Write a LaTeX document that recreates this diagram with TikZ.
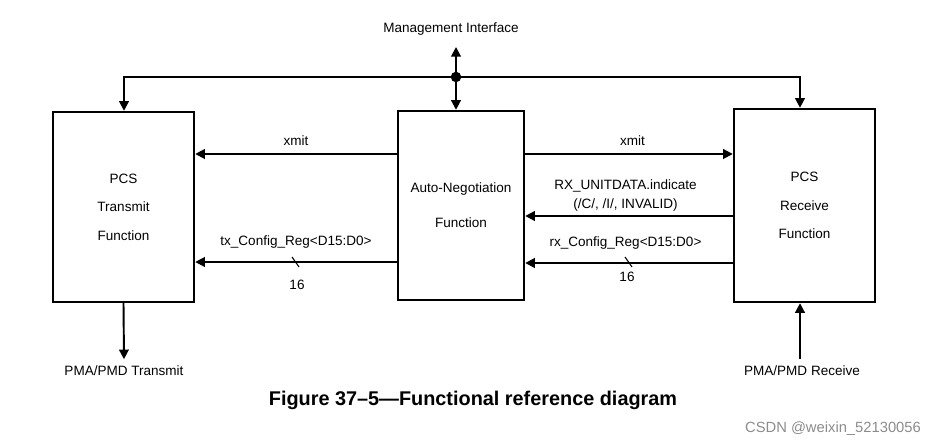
\documentclass[tikz,border=0pt]{standalone}
\usepackage{fontspec}
\setmainfont{Liberation Sans}
\usetikzlibrary{arrows.meta,positioning}

\tikzset{
  block/.style={draw,line width=1.4pt,align=center,font=\fontsize{7.7}{16.2}\selectfont},
  lbl/.style={font=\fontsize{7.7}{9.3}\selectfont,align=center},
}

\begin{document}
\begin{tikzpicture}[x=0.02cm,y=-0.02cm,>={Triangle[length=5.5pt,width=5.5pt]},line width=1.1pt]

\useasboundingbox (0,0) rectangle (937,448);

\node[block,minimum width=2.82cm,minimum height=3.8cm]  (tx) at (123.5,207)   {PCS\\Transmit\\Function};
 \node[block,minimum width=2.52cm,minimum height=3.78cm] (an) at (461,205.5) {Auto-Negotiation\\[3.7pt]Function};
	\node[block,minimum width=2.82cm,minimum height=3.86cm] (rx) at (804.5,205.5) {PCS\\Receive\\Function};

	\node[lbl] (mgmt)  at (451,29)  {Management Interface};
	\node[lbl] (pmatx) at (124,371) {PMA/PMD Transmit};
	\node[lbl] (pmarx) at (802,371) {PMA/PMD Receive};

	\coordinate (bus)    at (456,77);
	\coordinate (mgmtin) at (456,47);
	\coordinate (busl)   at (124,77);
	\coordinate (busr)   at (800,77);

	% management bus
	\draw[->] (bus) -- (mgmtin);
	\draw[->] (bus) -- (an.north -| bus);
	\draw[->] (bus) -- (busl) -- (tx.north -| busl);
	\draw[->] (bus) -- (busr) -- (rx.north -| busr);
	\fill (bus) circle[radius=3pt];

	% signals between the functions
	\path[->] (an.west |- 0,154) edge node[lbl,above=1pt] {xmit} (tx.east |- 0,154)
	          (an.west |- 0,262) edge node[lbl,above=4pt] {tx\_Config\_Reg<D15:D0>} (tx.east |- 0,262)
	          (an.east |- 0,154) edge node[lbl,above=1pt,xshift=2pt] {xmit} (rx.west |- 0,154)
	          (rx.west |- 0,216) edge node[lbl,above=-1pt,xshift=-2pt,font=\fontsize{7.7}{10.6}\selectfont] {RX\_UNITDATA.indicate\\(/C/, /I/, INVALID)} (an.east |- 0,216)
	          (rx.west |- 0,263) edge node[lbl,above=4pt,xshift=-2pt] {rx\_Config\_Reg<D15:D0>} (an.east |- 0,263);

	\draw[line width=0.6pt] (292,257) -- (299,267);
	\draw[line width=0.6pt] (625,257) -- (632,267);
	\node[lbl] (txw) at (297,285) {16};
	\node[lbl] (rxw) at (627,277) {16};

	% physical side
	\path[->] (tx.south) edge (pmatx.north)
	          (pmarx.north -| 800,0) edge (rx.south -| 800,0);

	\node[font=\fontsize{11.3}{13}\selectfont\bfseries] (cap) at (473,400) {Figure 37–5—Functional reference diagram};
	\node[font=\fontsize{8.4}{10}\selectfont,text=black!45] (wm) at (833,429) {CSDN @weixin\_52130056};

\end{tikzpicture}
\end{document}
